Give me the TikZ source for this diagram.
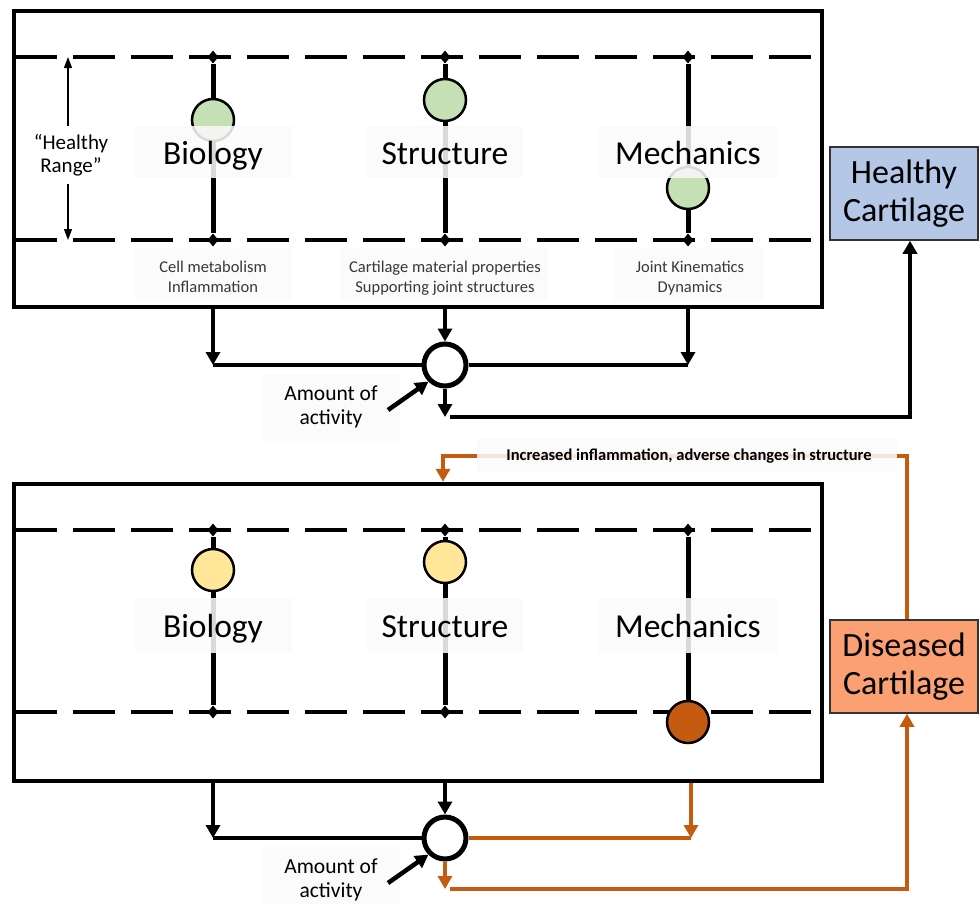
\documentclass[tikz,border=0pt]{standalone}
\usepackage{fontspec}
\setmainfont{Carlito}
\usetikzlibrary{arrows.meta,shapes.geometric}

\definecolor{okgreen}{HTML}{C5E0B4}
\definecolor{warnyellow}{HTML}{FFE699}
\definecolor{burnt}{HTML}{C55A11}
\definecolor{paleblue}{HTML}{B4C7E7}
\definecolor{salmon}{HTML}{FAA073}

\begin{document}
\begin{tikzpicture}[x=1pt,y=-1pt,
  panel/.style={draw, line width=4.5pt, inner sep=0pt},
  limit/.style={line width=4.5pt, dash pattern=on 42pt off 16pt},
  stem/.style={line width=5pt},
  tick/.style={diamond, fill=black, inner sep=0pt, minimum width=11pt, minimum height=13pt},
  dot/.style={circle, draw, line width=2.5pt, inner sep=0pt, minimum size=42pt},
  hub/.style={circle, draw, line width=5pt, fill=white, inner sep=0pt, minimum size=42pt},
  veil/.style={fill=black!2, fill opacity=0.87, text opacity=1, inner sep=0pt},
  big/.style={font=\fontsize{33.5}{37}\selectfont},
  mid/.style={font=\fontsize{21.5}{23.5}\selectfont, align=center},
  small/.style={font=\fontsize{16.5}{20}\selectfont, text=black!78, align=center},
  flow/.style={line width=4.5pt, -{Triangle[width=14pt,length=13pt]}},
  oflow/.style={line width=4pt, draw=burnt, -{Triangle[width=14pt,length=13pt]}},
  oline/.style={line width=4pt, draw=burnt},
  state/.style={draw=black!80, line width=1.5pt, minimum width=148pt, minimum height=93pt,
    align=center, font=\fontsize{34}{37.5}\selectfont}
]
\useasboundingbox (0,0) rectangle (980,903);

% ---------------- healthy joint ----------------
\node[panel, minimum width=808pt, minimum height=296pt] (P1) at (418,159) {};
\draw[limit] (15,57) -- (812,57);
\draw[limit] (15,240) -- (812,240);

% healthy range marker
\node[mid, font=\fontsize{21}{23}\selectfont, inner ysep=8pt] (hr) at (71,155) {“Healthy\\Range”};
\draw[line width=1.3pt, -{Triangle[width=8pt,length=11pt]}] (hr.north -| 68,0) -- (68,57);
\draw[line width=1.3pt, -{Triangle[width=8pt,length=11pt]}] (hr.south -| 68,0) -- (68,240);

% stems with end ticks
\node[tick] (b1t) at (213,57) {};  \node[tick] (b1b) at (213,240) {};
\node[tick] (s1t) at (445,57) {};  \node[tick] (s1b) at (445,240) {};
\node[tick] (m1t) at (688,57) {};  \node[tick] (m1b) at (688,240) {};
\draw[stem] (b1t) -- (b1b);
\draw[stem] (s1t) -- (s1b);
\draw[stem] (m1t) -- (m1b);

% current levels
\node[dot, fill=okgreen] (b1c) at (213,120) {};
\node[dot, fill=okgreen] (s1c) at (445,100) {};
\node[dot, fill=okgreen] (m1c) at (688,188) {};

% headings
\node[veil, minimum width=157pt, minimum height=52pt] (b1v) at (213.5,152) {};
\node[veil, minimum width=156pt, minimum height=52pt] (s1v) at (445,152) {};
\node[veil, minimum width=180pt, minimum height=52pt] (m1v) at (688,152) {};
\node[big, anchor=base] (b1l) at (213,164) {Biology};
\node[big, anchor=base] (s1l) at (445,164) {Structure};
\node[big, anchor=base] (m1l) at (688,164) {Mechanics};

% factor descriptions
\node[veil, minimum width=157pt, minimum height=52pt] (b1d) at (213.5,274) {};
\node[veil, minimum width=208pt, minimum height=52pt] (s1d) at (444,274) {};
\node[veil, minimum width=150pt, minimum height=52pt] (m1d) at (689,274) {};
\node[small] (b1s) at (213,277) {Cell metabolism\\Inflammation};
\node[small] (s1s) at (445,278) {Cartilage material properties\\Supporting joint structures};
\node[small] (m1s) at (690,278) {Joint Kinematics\\Dynamics};

% outcome
\node[state, fill=paleblue] (HC) at (904,193.5) {Healthy\\Cartilage};

% combination of factors
\node[hub] (h1) at (445,365) {};
\coordinate (l1) at (213,365);
\coordinate (r1) at (688,365);
\coordinate (o1) at (445,417);
\draw[flow] (P1.south -| l1) -- (l1);
\draw[flow] (P1.south -| r1) -- (r1);
\draw[flow] (P1.south -| h1) -- (h1.north);
\draw[line width=4.5pt] (l1) -- (h1.west);
\draw[line width=4.5pt] (h1.east) -- (r1);
\draw[flow] (h1.south) -- (o1);
\draw[flow] ([xshift=5pt]o1) -| ([xshift=6pt]HC.south);

\node[veil, mid, minimum width=138pt, minimum height=67pt] (a1) at (331,407) {Amount of\\activity};
\coordinate (a1s) at (388,410);
\draw[flow] (a1s) -- (h1.south west);

% ---------------- feedback ----------------
\node[state, fill=salmon] (DC) at (904,666.5) {Diseased\\Cartilage};
\node[panel, minimum width=808pt, minimum height=297pt] (P2) at (418,632.5) {};
\coordinate (fb) at (443,456);
\draw[oflow] ([xshift=3pt]DC.north) |- (fb) -- (fb |- P2.north);
\node[veil, minimum width=420pt, minimum height=34pt] (fbv) at (687,455) {};
\node[font=\fontsize{16.5}{20}\selectfont\bfseries, anchor=base] (fbl) at (689,460)
  {Increased inflammation, adverse changes in structure};

% ---------------- diseased joint ----------------
\draw[limit] (15,530) -- (812,530);
\draw[limit] (15,712) -- (812,712);

\node[tick] (b2t) at (213,530) {};  \node[tick] (b2b) at (213,712) {};
\node[tick] (s2t) at (445,530) {};  \node[tick] (s2b) at (445,712) {};
\node[tick] (m2t) at (688,530) {};
\node[dot, fill=burnt] (m2c) at (688,722) {};
\draw[stem] (b2t) -- (b2b);
\draw[stem] (s2t) -- (s2b);
\draw[stem] (m2t) -- (m2c);

\node[dot, fill=warnyellow] (b2c) at (213,570) {};
\node[dot, fill=warnyellow] (s2c) at (445,562) {};

\node[veil, minimum width=157pt, minimum height=55pt] (b2v) at (213.5,625.5) {};
\node[veil, minimum width=156pt, minimum height=55pt] (s2v) at (445,625.5) {};
\node[veil, minimum width=180pt, minimum height=55pt] (m2v) at (688,625.5) {};
\node[big, anchor=base] (b2l) at (213,637) {Biology};
\node[big, anchor=base] (s2l) at (445,637) {Structure};
\node[big, anchor=base] (m2l) at (688,637) {Mechanics};

\node[hub] (h2) at (445,838) {};
\coordinate (l2) at (213,838);
\coordinate (r2) at (691,838);
\coordinate (o2) at (445,889);
\draw[flow] (P2.south -| l2) -- (l2);
\draw[flow] (P2.south -| h2) -- (h2.north);
\draw[oflow] (P2.south -| r2) -- (r2);
\draw[line width=4.5pt] (l2) -- (h2.west);
\draw[oline] (h2.east) -- (r2);
\draw[oflow] (h2.south) -- (o2);
\draw[oflow] ([xshift=5pt]o2) -| ([xshift=3pt]DC.south);

\node[veil, mid, minimum width=138pt, minimum height=67pt] (a2) at (331,880) {Amount of\\activity};
\coordinate (a2s) at (388,883);
\draw[flow] (a2s) -- (h2.south west);
\end{tikzpicture}
\end{document}
